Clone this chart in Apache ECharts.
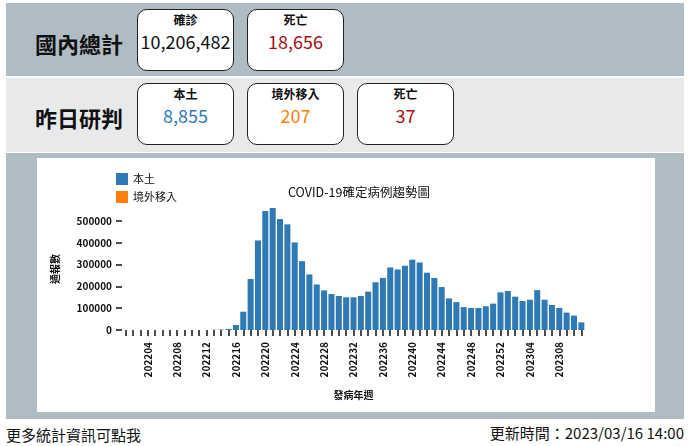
<!DOCTYPE html>
<html><head><meta charset="utf-8">
<script src="https://cdn.jsdelivr.net/npm/echarts@6/dist/echarts.min.js"></script>
<style>
body{margin:0;width:690px;height:446px;background:#fff;font-family:"Noto Sans CJK TC","Noto Sans",sans-serif;position:relative;overflow:hidden}
.row{position:absolute;left:6px;width:678px}
.lbl{position:absolute;left:35px;font-size:22px;font-weight:bold;color:#111}
.box{position:absolute;width:97px;height:62px;background:#fff;border:1.5px solid #222;border-radius:10px;text-align:center;box-sizing:border-box}
.box .t{font-size:12px;font-weight:bold;margin-top:1px;color:#111}
.box .v{font-size:18px;margin-top:0px}
</style></head><body>
<div class="row" style="top:3px;height:73px;background:#b0bcc4"></div>
<div class="row" style="top:78px;height:74px;background:#e7e9eb"></div>
<div class="row" style="top:153px;height:266px;background:#b0bcc4"></div>
<div class="lbl" style="top:27px">國內總計</div>
<div class="lbl" style="top:101px">昨日研判</div>
<div class="box" style="left:137px;top:9px"><div class="t">確診</div><div class="v" style="color:#111">10,206,482</div></div>
<div class="box" style="left:247px;top:9px"><div class="t">死亡</div><div class="v" style="color:#a50f15">18,656</div></div>
<div class="box" style="left:137px;top:83px"><div class="t">本土</div><div class="v" style="color:#2f7ab5">8,855</div></div>
<div class="box" style="left:247px;top:83px"><div class="t">境外移入</div><div class="v" style="color:#ff7f0e">207</div></div>
<div class="box" style="left:357px;top:83px"><div class="t">死亡</div><div class="v" style="color:#a50f15">37</div></div>
<div id="c" style="position:absolute;left:37px;top:158px;width:618px;height:254px;background:#fff"></div>
<div style="position:absolute;left:6px;top:424px;font-size:15px;color:#111">更多統計資訊可點我</div>
<div style="position:absolute;right:6px;top:422px;font-size:15px;color:#111">更新時間：2023/03/16 14:00</div>
<script>
const weeks=[];
for(let i=1;i<=52;i++)weeks.push('2022'+String(i).padStart(2,'0'));
for(let i=1;i<=11;i++)weeks.push('2023'+String(i).padStart(2,'0'));
const domestic=[0,0,0,0,0,0,0,0,0,0,0,0,1000,2000,5000,23000,84000,234000,411000,546000,560000,509000,485000,402000,316000,255000,209000,182000,165000,156000,150000,150000,156000,176000,219000,239000,287000,278000,295000,323000,310000,263000,239000,197000,145000,128000,105000,101000,101000,109000,121000,173000,179000,153000,133000,139000,183000,139000,115000,101000,80000,66000,35000];
const imported=[0,0,0,0,0,0,0,0,0,0,0,0,0,0,0,0,0,0,0,0,0,0,0,0,0,0,0,0,0,0,0,0,0,0,0,0,0,0,0,0,0,0,0,0,0,0,0,0,0,0,0,0,0,0,0,0,0,0,0,0,0,0,0];
const ch=echarts.init(document.getElementById('c'));
const f='"Noto Sans CJK TC",sans-serif';
ch.setOption({
 animation:false,
 title:{text:'COVID-19確定病例趨勢圖',left:246,top:23,textStyle:{fontSize:12.5,fontWeight:'normal',fontFamily:f,color:'#111'}},
 legend:{left:74,top:10,orient:'vertical',itemWidth:12,itemHeight:12,itemGap:6,icon:'rect',textStyle:{fontSize:11,fontFamily:f,color:'#111'},data:['本土','境外移入']},
 grid:{left:85,right:70,top:50,bottom:82},
 xAxis:{type:'category',data:weeks,name:'發病年週',nameLocation:'middle',nameGap:60,nameTextStyle:{fontSize:10,fontWeight:'bold',fontFamily:f,color:'#111'},
  axisLine:{show:false},axisTick:{show:true,length:6,lineStyle:{color:'#111',width:1.5},alignWithLabel:true,interval:0},
  axisLabel:{rotate:90,interval:(i)=>i%4===3,fontSize:10,fontWeight:'bold',fontFamily:f,color:'#111',margin:12}},
 yAxis:{type:'value',min:0,max:560000,interval:100000,name:'通報數',nameLocation:'middle',nameGap:62,nameRotate:90,nameTextStyle:{fontSize:10,fontWeight:'bold',fontFamily:f,color:'#111'},
  splitLine:{show:false},axisLine:{show:false},axisTick:{show:true,length:6,lineStyle:{color:'#111',width:1.5}},
  axisLabel:{fontSize:10,fontWeight:'bold',fontFamily:f,color:'#111',margin:10,showMaxLabel:false,formatter:v=>v>500000?'':v}},
 series:[
  {name:'本土',type:'bar',stack:'a',data:domestic,barCategoryGap:'18%',itemStyle:{color:'#2f7ab5'}},
  {name:'境外移入',type:'bar',stack:'a',data:imported,itemStyle:{color:'#ff7f0e'}}
 ]
});
</script></body></html>
